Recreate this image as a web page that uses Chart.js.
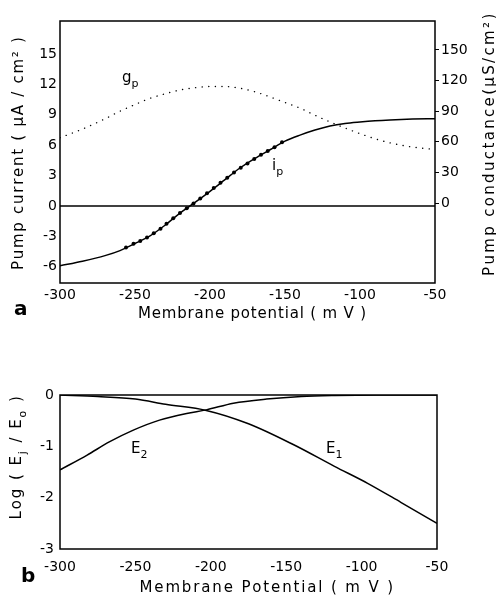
<!DOCTYPE html>
<html>
<head>
<meta charset="utf-8">
<script src="https://cdn.jsdelivr.net/npm/chart.js@4.4.0/dist/chart.umd.min.js"></script>
<style>
  body { margin: 0; background: #fff; width: 496px; height: 600px; position: relative; overflow: hidden; }
  #c1 { position: absolute; left: 0; top: 0; }
  #c2 { position: absolute; left: 0; top: 330px; }
</style>
</head>
<body>
<canvas id="c1" width="496" height="325"></canvas>
<canvas id="c2" width="496" height="270"></canvas>
<script>
// ---- data (panel a) ----
const xTicks = [-300, -250, -200, -150, -100, -50];
const currentTicks = [-6, -3, 0, 3, 6, 9, 12, 15];
const conductanceTicks = [0, 30, 60, 90, 120, 150];

// i_p curve (uA/cm2)
const ipV = [-300, -285, -270, -260, -250, -240, -230, -220, -210, -200, -190, -180, -170, -160, -150, -140, -130, -120, -110, -100, -90, -80, -65, -50];
const ipI = [-5.9, -5.45, -4.9, -4.4, -3.7, -2.95, -1.9, -0.7, 0.35, 1.45, 2.6, 3.75, 4.7, 5.55, 6.4, 7.0, 7.5, 7.9, 8.15, 8.3, 8.42, 8.5, 8.58, 8.62];

// measured points on i_p
const ptV = [-256, -251, -246.5, -242, -237.5, -233, -229, -224.5, -220, -215.5, -211, -206.5, -202, -197.5, -193, -188.5, -184, -179.5, -175, -170.5, -166, -161.5, -157, -152];
const ptI = [-4.1, -3.72, -3.45, -3.1, -2.7, -2.25, -1.75, -1.2, -0.7, -0.22, 0.25, 0.75, 1.25, 1.78, 2.3, 2.8, 3.3, 3.78, 4.2, 4.65, 5.05, 5.42, 5.8, 6.3];

// g_p curve (uS/cm2)
const gpV = [-300, -285, -270, -260, -250, -240, -230, -220, -210, -200, -190, -180, -170, -160, -150, -140, -130, -120, -110, -100, -90, -80, -70, -60, -50];
const gpG = [64, 72.5, 82.5, 90, 96.5, 102.6, 107, 110.8, 113, 114.2, 114.2, 112.5, 109, 104, 98.5, 93, 86, 79.5, 73.5, 68, 63, 59, 56, 54, 52.5];

// ---- data (panel b) ----
const logTicks = [-3, -2, -1, 0];
const e1V = [-300, -275, -250, -230, -203, -175, -145, -118, -96, -74, -50];
const e1L = [0, -0.03, -0.08, -0.18, -0.3, -0.56, -0.97, -1.39, -1.72, -2.09, -2.5];
const e2V = [-300, -282, -267, -251, -234, -216, -203, -185, -163, -140, -118, -90, -50];
const e2L = [-1.46, -1.17, -0.91, -0.68, -0.49, -0.36, -0.29, -0.16, -0.08, -0.03, -0.01, 0, 0];

const FONT = 'DejaVu Sans';
const pts = (xs, ys) => xs.map((x, i) => ({ x: x, y: ys[i] }));
const fixTicks = arr => scale => { scale.ticks = arr.map(v => ({ value: v })); };

// draw a label made of parts, e.g. [{t:'g'},{t:'p',sub:true}]
function drawParts(ctx, parts, x, y, size, opts) {
  opts = opts || {};
  ctx.save();
  ctx.translate(x, y);
  if (opts.rotate) ctx.rotate(opts.rotate);
  ctx.fillStyle = '#000';
  ctx.textBaseline = 'alphabetic';
  ctx.textAlign = 'left';
  const fontOf = p => (p.bold ? 'bold ' : '') + (p.sub ? Math.round(size * 0.72) : size) + 'px "' + FONT + '"';
  // natural width
  let natural = 0, chars = 0;
  parts.forEach(p => { ctx.font = fontOf(p); natural += ctx.measureText(p.t).width; chars += p.t.length; });
  let spacing = 0;
  if (opts.width && chars > 1) spacing = (opts.width - natural) / (chars - 1);
  const total = natural + spacing * (chars - 1);
  let cx = opts.center ? -total / 2 : 0;
  parts.forEach(p => {
    ctx.font = fontOf(p);
    for (const ch of p.t) {
      ctx.fillText(ch, cx, p.sub ? size * 0.3 : 0);
      cx += ctx.measureText(ch).width + spacing;
    }
  });
  ctx.restore();
}

function framePlugin(extra) {
  return {
    id: 'frame',
    afterDraw(chart) {
      const a = chart.chartArea, ctx = chart.ctx;
      ctx.save();
      ctx.strokeStyle = '#000';
      ctx.lineWidth = 1.5;
      ctx.strokeRect(a.left, a.top, a.right - a.left, a.bottom - a.top);
      ctx.restore();
      extra(ctx);
    }
  };
}

const tickFont = { family: FONT, size: 14 };
const noGrid = { display: false, drawTicks: false };

// ---- panel a ----
new Chart(document.getElementById('c1'), {
  type: 'line',
  data: {
    datasets: [
      { data: pts([-300, -50], [0, 0]), borderColor: '#000', borderWidth: 1.3, pointRadius: 0, yAxisID: 'y' },
      { data: pts(ipV, ipI), borderColor: '#000', borderWidth: 1.5, pointRadius: 0, cubicInterpolationMode: 'monotone', yAxisID: 'y' },
      { data: pts(ptV, ptI), showLine: false, pointRadius: 2, pointBackgroundColor: '#000', pointBorderWidth: 0, yAxisID: 'y' },
      { data: pts(gpV, gpG), borderColor: '#000', borderWidth: 1.4, borderDash: [0.1, 6.5], borderCapStyle: 'round',
        pointRadius: 0, cubicInterpolationMode: 'monotone', yAxisID: 'y1' }
    ]
  },
  options: {
    responsive: false,
    animation: false,
    layout: { padding: { top: 21, left: 0, right: 0, bottom: 0 } },
    plugins: { legend: { display: false }, tooltip: { enabled: false } },
    scales: {
      x: {
        type: 'linear', min: -300, max: -50,
        afterBuildTicks: fixTicks(xTicks),
        ticks: { font: tickFont, color: '#000', padding: 4 },
        grid: noGrid, border: { display: false },
        afterFit(s) { s.height = 42; }
      },
      y: {
        position: 'left', min: -7.6, max: 18.26,
        afterBuildTicks: fixTicks(currentTicks),
        ticks: { font: tickFont, color: '#000', padding: 3 },
        grid: noGrid, border: { display: false },
        afterFit(s) { s.width = 60; }
      },
      y1: {
        position: 'right', min: -78.4, max: 178.4,
        afterBuildTicks: fixTicks(conductanceTicks),
        ticks: { font: tickFont, color: '#000', padding: 2 },
        grid: { drawOnChartArea: false, drawTicks: true, tickLength: 4, color: '#000' }, border: { display: false },
        afterFit(s) { s.width = 61; }
      }
    }
  },
  plugins: [framePlugin(ctx => {
    drawParts(ctx, [{ t: 'Pump current ( μA / cm² )' }], 23, 154, 15, { rotate: -Math.PI / 2, center: true, width: 232 });
    drawParts(ctx, [{ t: 'Pump conductance(μS/cm²)' }], 494, 145, 15, { rotate: -Math.PI / 2, center: true, width: 262 });
    drawParts(ctx, [{ t: 'Membrane potential ( m V )' }], 252, 318, 15, { center: true, width: 228 });
    drawParts(ctx, [{ t: 'a', bold: true }], 14, 315, 20);
    drawParts(ctx, [{ t: 'g' }, { t: 'p', sub: true }], 122, 82, 15);
    drawParts(ctx, [{ t: 'i' }, { t: 'p', sub: true }], 272, 170, 15);
  })]
});

// ---- panel b ----
new Chart(document.getElementById('c2'), {
  type: 'line',
  data: {
    datasets: [
      { data: pts(e1V, e1L), borderColor: '#000', borderWidth: 1.5, pointRadius: 0, cubicInterpolationMode: 'monotone' },
      { data: pts(e2V, e2L), borderColor: '#000', borderWidth: 1.5, pointRadius: 0, cubicInterpolationMode: 'monotone' }
    ]
  },
  options: {
    responsive: false,
    animation: false,
    layout: { padding: { top: 65, left: 0, right: 59, bottom: 0 } },
    plugins: { legend: { display: false }, tooltip: { enabled: false } },
    scales: {
      x: {
        type: 'linear', min: -300, max: -50,
        afterBuildTicks: fixTicks(xTicks),
        ticks: { font: tickFont, color: '#000', padding: 10 },
        grid: noGrid, border: { display: false },
        afterFit(s) { s.height = 51; }
      },
      y: {
        min: -3, max: 0,
        afterBuildTicks: fixTicks(logTicks),
        ticks: { font: tickFont, color: '#000', padding: 6 },
        grid: noGrid, border: { display: false },
        afterFit(s) { s.width = 60; }
      }
    }
  },
  plugins: [framePlugin(ctx => {
    drawParts(ctx, [{ t: 'Log ( E' }, { t: 'j', sub: true }, { t: ' / E' }, { t: 'o', sub: true }, { t: ' )' }],
      21, 128, 15, { rotate: -Math.PI / 2, center: true, width: 123 });
    drawParts(ctx, [{ t: 'Membrane Potential ( m V )' }], 266, 262, 15, { center: true, width: 253 });
    drawParts(ctx, [{ t: 'b', bold: true }], 21, 252, 20);
    drawParts(ctx, [{ t: 'E' }, { t: '2', sub: true }], 131, 123, 15);
    drawParts(ctx, [{ t: 'E' }, { t: '1', sub: true }], 326, 123, 15);
  })]
});
</script>
</body>
</html>
